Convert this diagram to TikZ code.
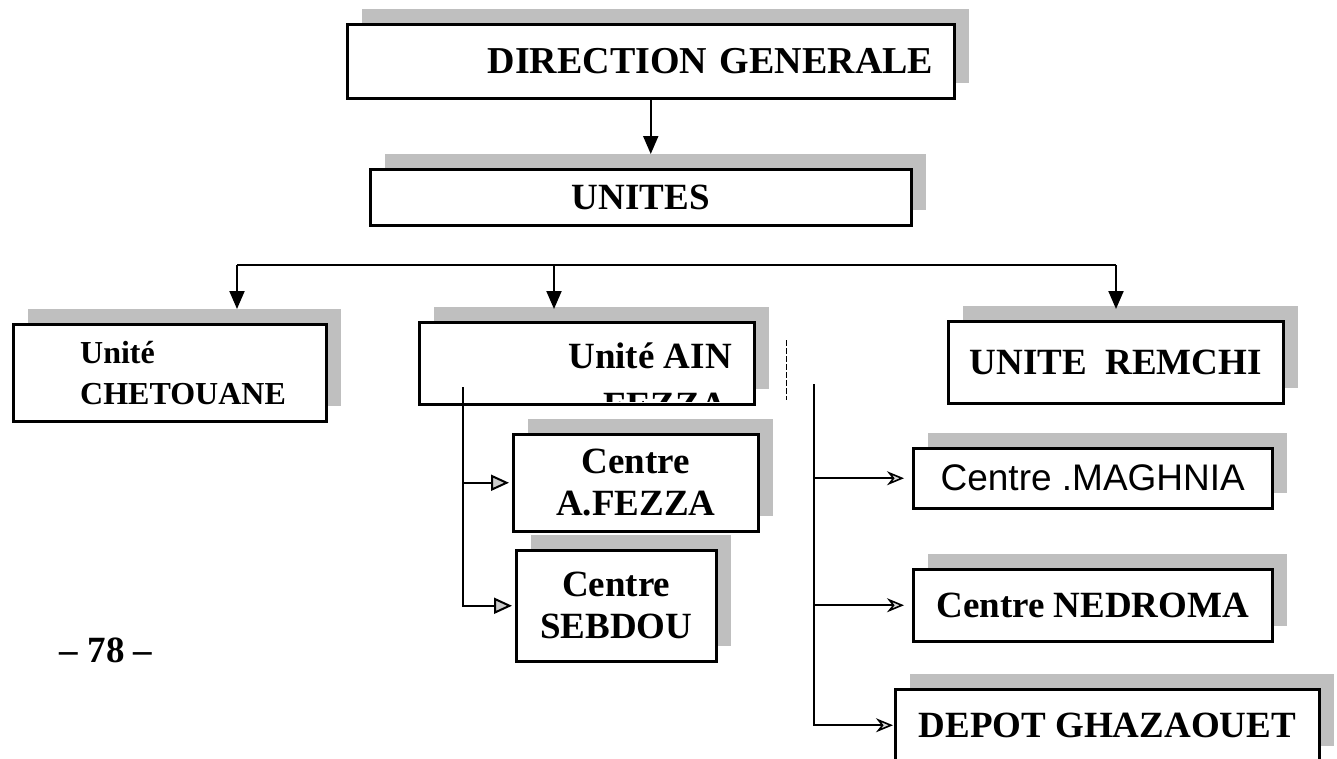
\documentclass[tikz,border=0pt]{standalone}
\usepackage{fontspec}
\setmainfont{Liberation Serif}
\newfontfamily\arialfont{Liberation Sans}
\usetikzlibrary{shadows, arrows.meta, positioning}

\begin{document}
\begin{tikzpicture}[x=1pt, y=-1pt,
  box/.style={draw, line width=2.5pt, fill=white, inner sep=0pt, anchor=north west,
    align=center, font=\fontsize{37}{42}\selectfont\bfseries,
    drop shadow={shadow xshift=15pt, shadow yshift=15pt, fill=gray!50, opacity=1}},
  lbl/.style={font=\fontsize{37}{42}\selectfont\bfseries, inner sep=0pt},
  link/.style={line width=2pt},
  down/.style={link, -{Triangle[length=18pt, width=15pt]}},
  side/.style={link, -{Triangle[open, length=18pt, width=16pt, fill=gray!40]}, shorten >=3pt},
  sidethin/.style={line width=1.6pt, -{Stealth[open, length=17pt, width=14pt, fill=gray!30]}}]

  % cadre de la page
  \useasboundingbox (0,0) rectangle (1337,758);
  \fill[white] (0,0) rectangle (1337,758);
  \clip (0,0) rectangle (1337,758);

  % Direction et unites
  \node[box, minimum width=607, minimum height=74, text width=565, align=right,
    font=\fontsize{38}{42}\selectfont\bfseries] (dg) at (346,23) {DIRECTION GENERALE};
  \node[box, minimum width=541, minimum height=56] (unites) at (369,168) {UNITES};
  \coordinate (unin) at ([yshift=14pt]unites.north);
  \draw[down] (dg.south) -- (dg.south |- unin);

  % Les trois unites
  \node[box, minimum width=313, minimum height=97] (chet) at (12,323) {};
  \node[lbl, align=left, anchor=west, font=\fontsize{32}{41}\selectfont\bfseries]
    (chetlbl) at ([xshift=68pt]chet.west) {Unité\\CHETOUANE};
  \node[box, minimum width=335, minimum height=82] (ain) at (418,321) {};
  \node[lbl, anchor=base east] (ainlbl) at (732,368) {Unité AIN};
  \begin{scope}
    \clip (420,323) rectangle (751,401);
    \node[lbl, anchor=base east] (ainlbl2) at (727,417) {FEZZA};
  \end{scope}
  \node[box, minimum width=335, minimum height=82] (remchi) at (947,320) {UNITE\ \ REMCHI};

  % Barre horizontale
  \coordinate (busl) at (237,265);
  \coordinate (busm) at (554,265);
  \coordinate (busr) at (1116,265);
  \coordinate (uin) at ([yshift=14pt]chet.north);
  \draw[link] (busl) -- (busr);
  \draw[down] (busl) -- (busl |- uin);
  \draw[down] (busm) -- (busm |- uin);
  \draw[down] (busr) -- (busr |- uin);

  % Centres de Ain Fezza
  \node[box, minimum width=245, minimum height=97] (fez) at (512,433) {Centre\\A.FEZZA};
  \node[box, minimum width=200, minimum height=111] (sebd) at (515,549) {Centre\\SEBDOU};
  \coordinate (ainsp) at (463,387);
  \draw[side] (ainsp) |- (fez.west);
  \draw[side] (ainsp) |- (sebd.west);

  % Centres de Remchi
  \node[box, minimum width=359, minimum height=60,
    font=\fontsize{37}{42}\selectfont\arialfont] (magh) at (912,447) {Centre .MAGHNIA};
  \node[box, minimum width=359, minimum height=72] (nedr) at (912,568) {Centre NEDROMA};
  \node[box, minimum width=424, minimum height=72] (depot) at (894,688) {DEPOT GHAZAOUET};
  \coordinate (rsp) at (814,384);
  \draw[sidethin, shorten >=8pt] (rsp) |- (magh.west);
  \draw[sidethin, shorten >=8pt] (rsp) |- (nedr.west);
  \draw[sidethin, shorten >=1pt] (rsp) |- (depot.west);

  % trait isole
  \draw[line width=1pt, dash pattern=on 6pt off 2pt] (786,340) -- (786,400);

  % numero de page
  \node[lbl] (page) at (106,650) {– 78 –};
\end{tikzpicture}
\end{document}
